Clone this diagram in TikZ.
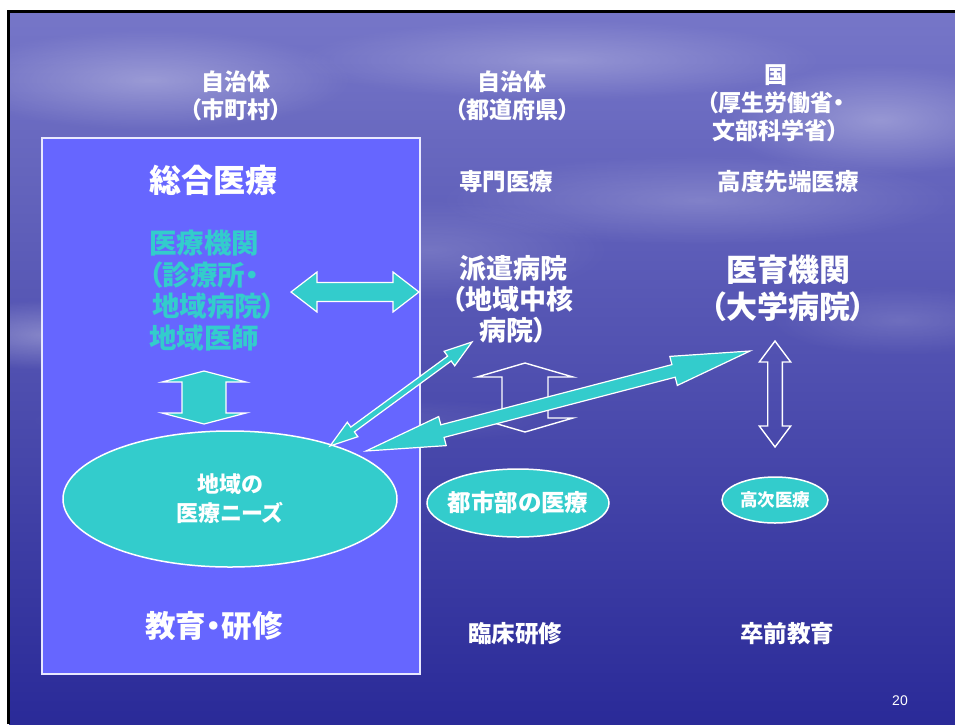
\documentclass[tikz,border=0pt]{standalone}
\usepackage{fontspec}
\setmainfont{Noto Sans CJK JP}[RawFeature=+palt]
\newfontfamily\numfont{Liberation Sans}
\usetikzlibrary{calc,fadings,shapes.geometric}
\definecolor{tq}{RGB}{51,204,204}
\definecolor{boxblue}{RGB}{102,102,255}
\definecolor{bgtop}{RGB}{118,118,200}
\definecolor{bgmid}{RGB}{72,72,175}
\definecolor{bgbot}{RGB}{42,42,152}
\tikzfading[name=softfade, inner color=transparent!0, outer color=transparent!100]
% block double arrow: [style]{A}{B}{shaft half}{head half}{head length}
\newcommand{\blockarrow}[6][]{%
  \draw[#1] (#2)
    -- ($(#2)!#6!(#3)!#5!90:(#3)$)
    -- ($(#2)!#6!(#3)!#4!90:(#3)$)
    -- ($(#3)!#6!(#2)!#4!-90:(#2)$)
    -- ($(#3)!#6!(#2)!#5!-90:(#2)$)
    -- (#3)
    -- ($(#3)!#6!(#2)!#5!90:(#2)$)
    -- ($(#3)!#6!(#2)!#4!90:(#2)$)
    -- ($(#2)!#6!(#3)!#4!-90:(#3)$)
    -- ($(#2)!#6!(#3)!#5!-90:(#3)$)
    -- cycle;}
\tikzset{
  solidarrow/.style={fill=tq, draw=white, line width=1.2pt, line join=miter},
  hollowarrow/.style={draw=white, line width=1.4pt, line join=miter},
  hdr/.style={text=white, font=\bfseries\fontsize{23}{28}\selectfont, align=center, inner sep=0},
  sub/.style={text=white, font=\bfseries\fontsize{23.5}{28}\selectfont, align=center, inner sep=0},
  ell/.style={ellipse, fill=tq, draw=white, line width=1.5pt, inner sep=0},
  elltext/.style={text=white, align=center, inner sep=0},
  cloud/.style={fill=white, path fading=softfade}
}
\begin{document}
\begin{tikzpicture}[x=1pt, y=-1pt]
\useasboundingbox (0,0) rectangle (955,724);
\fill[white] (0,0) rectangle (955,724);
% background
\shade[top color=bgtop, middle color=bgmid, bottom color=bgbot] (9,12) rectangle (955,724);
\fill[cloud, opacity=0.30] (150,80) ellipse [x radius=200, y radius=50];
\fill[cloud, opacity=0.25] (560,60) ellipse [x radius=260, y radius=40];
\fill[cloud, opacity=0.30] (880,120) ellipse [x radius=160, y radius=55];
\fill[cloud, opacity=0.20] (700,200) ellipse [x radius=260, y radius=45];
\fill[cloud, opacity=0.30] (50,335) ellipse [x radius=130, y radius=35];
\fill[cloud, opacity=0.15] (430,250) ellipse [x radius=180, y radius=50];
\fill[cloud, opacity=0.15] (900,320) ellipse [x radius=130, y radius=35];
\fill[cloud, opacity=0.10] (300,420) ellipse [x radius=280, y radius=25];
\draw[black, line width=3pt] (8.5,724) -- (8.5,11.5) -- (955,11.5);
% main box
\node[draw=white!85!boxblue, line width=2pt, fill=boxblue, minimum width=378, minimum height=536, anchor=north west, inner sep=0] (box) at (41,137) {};
% headers
\node[hdr] (h1) at (236,96) {自治体\\（市町村）};
\node[hdr] (h2) at (512,96) {自治体\\（都道府県）};
\node[hdr] (h3) at (776,103) {国\\（厚生労働省・\\文部科学省）};
\node[text=white, font=\bfseries\fontsize{32}{36}\selectfont, inner sep=0] (sogo) at (213,180) {総合医療};
\node[sub] (senmon) at (506,182) {専門医療};
\node[sub] (kodo) at (788,182) {高度先端医療};
% cyan block
\node[text=tq, font=\bfseries\fontsize{27.5}{31.5}\selectfont, align=left, inner sep=0, anchor=west] (iryo) at (149,290.5) {医療機関\\（診療所・\\\hspace{3pt}地域病院）\\地域医師};
% haken
\node[text=white, font=\bfseries\fontsize{27}{31}\selectfont, align=center, inner sep=0] (haken) at (513,299) {派遣病院\\（地域中核\\病院）};
\node[text=white, font=\bfseries\fontsize{31}{37}\selectfont, align=center, inner sep=0] (iiku) at (788,288.5) {医育機関\\（大学病院）};
% arrows coordinates
\coordinate (ha1) at (291,292); \coordinate (ha2) at (419,292);
\coordinate (va1) at (204,371); \coordinate (va2) at (204,424);
\coordinate (ma1) at (525,363); \coordinate (ma2) at (525,432);
\coordinate (ra1) at (775,341); \coordinate (ra2) at (775,447);
\coordinate (ta1) at (330,446); \coordinate (ta2) at (472,342);
\coordinate (ka1) at (366,451); \coordinate (ka2) at (750,351);
\blockarrow[solidarrow]{ha1}{ha2}{9.5pt}{20pt}{26pt}
\blockarrow[solidarrow]{va1}{va2}{22pt}{42pt}{11pt}
% ellipses
\node[ell, minimum width=334, minimum height=136] (needs) at (230,499) {};
\node[elltext, font=\bfseries\fontsize{22}{29}\selectfont] (needst) at (needs) {地域の\\医療ニーズ};
\node[ell, minimum width=182, minimum height=68] (toshi) at (518,503) {};
\node[elltext, font=\bfseries\fontsize{23.5}{26}\selectfont] (toshit) at (toshi) {都市部の医療};
\node[ell, minimum width=106, minimum height=46] (koji) at (775,500) {};
\node[elltext, font=\bfseries\fontsize{17.5}{20}\selectfont] (kojit) at (koji) {高次医療};
% hollow arrows
\blockarrow[hollowarrow]{ma1}{ma2}{23pt}{48pt}{14pt}
\blockarrow[hollowarrow]{ra1}{ra2}{7.3pt}{15.7pt}{21pt}
% diagonal arrows
\blockarrow[solidarrow]{ta1}{ta2}{3pt}{9pt}{28pt}
\blockarrow[solidarrow]{ka1}{ka2}{6.5pt}{15pt}{79pt}
% bottom labels
\node[text=white, font=\bfseries\fontsize{30.5}{32}\selectfont, inner sep=0] (kyoiku) at (214,626) {教育・研修};
\node[sub] (rinsho) at (515,634) {臨床研修};
\node[sub] (sotsu) at (787,634) {卒前教育};
\node[text=white, font=\numfont\fontsize{14}{16}\selectfont, inner sep=0] (pg) at (900,701) {20};
\end{tikzpicture}
\end{document}
